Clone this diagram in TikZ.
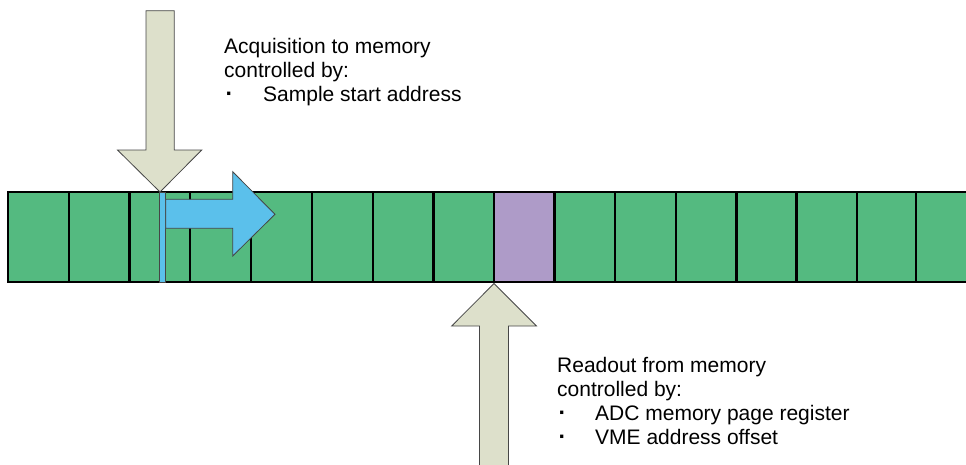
\documentclass[tikz,border=0pt]{standalone}
\usepackage{fontspec}
\setmainfont{Liberation Sans}
\definecolor{cellgreen}{RGB}{84,186,128}
\definecolor{cellpurple}{RGB}{174,155,200}
\definecolor{ptrfill}{RGB}{221,224,203}
\definecolor{ptrline}{RGB}{70,70,70}
\definecolor{flowblue}{RGB}{91,192,235}
\tikzset{
  cellline/.style={line width=2.4pt, black},
  pointer/.style={fill=ptrfill, draw=ptrline, line width=0.8pt, line join=miter},
  flow/.style={fill=flowblue, draw=ptrline, line width=0.8pt, line join=miter},
  label/.style={anchor=base west, inner sep=0pt, font=\fontsize{21}{24}\selectfont},
  bullet/.style={label, font=\fontsize{23}{24}\selectfont\bfseries}
}
\begin{document}
\begin{tikzpicture}[x=1pt, y=-1pt]
  \useasboundingbox (0,0) rectangle (966,464);

  % memory strip
  \fill[cellgreen] (8,192) rectangle (970,282);
  \fill[cellpurple] (494,192) rectangle (554.5,282);
  \draw[cellline] (970,192) -- (8,192) -- (8,282) -- (970,282);
  \foreach \x in {69,129.5,190,251,312,373,433.5,494,554.5,615,676,736.5,796.5,857,916}
    \draw[cellline] (\x,192) -- (\x,282);

  % write pointer and direction of acquisition
  \draw[flow] (159.3,192) rectangle (165.7,282);
  \draw[flow] (165.7,199.3) -- (232.7,199.3) -- (232.7,171.7) -- (275,214.3)
     -- (232.7,256) -- (232.7,228.3) -- (165.7,228.3) -- cycle;

  % acquisition arrow
  \draw[pointer] (146,10.7) -- (174.2,10.7) -- (174.2,150) -- (201.7,150)
     -- (160,192) -- (117.5,150) -- (146,150) -- cycle;

  % readout arrow
  \draw[pointer] (479.5,470) -- (479.5,326) -- (451.7,326) -- (494,283.5)
     -- (536.5,326) -- (508.5,326) -- (508.5,470);

  % annotations
  \node[label] (acq1) at (224,53) {Acquisition to memory};
  \node[label] (acq2) at (224,77.3) {controlled by:};
  \node[bullet] (acq3) at (225.5,101.6) {·};
  \node[label] (acq4) at (263,101.6) {Sample start address};

  \node[label] (rd1) at (557,372) {Readout from memory};
  \node[label] (rd2) at (557,396.3) {controlled by:};
  \node[bullet] (rd3) at (558.5,420.6) {·};
  \node[label] (rd4) at (595,420.6) {ADC memory page register};
  \node[bullet] (rd5) at (558.5,444.9) {·};
  \node[label] (rd6) at (595,444.9) {VME address offset};
\end{tikzpicture}
\end{document}
